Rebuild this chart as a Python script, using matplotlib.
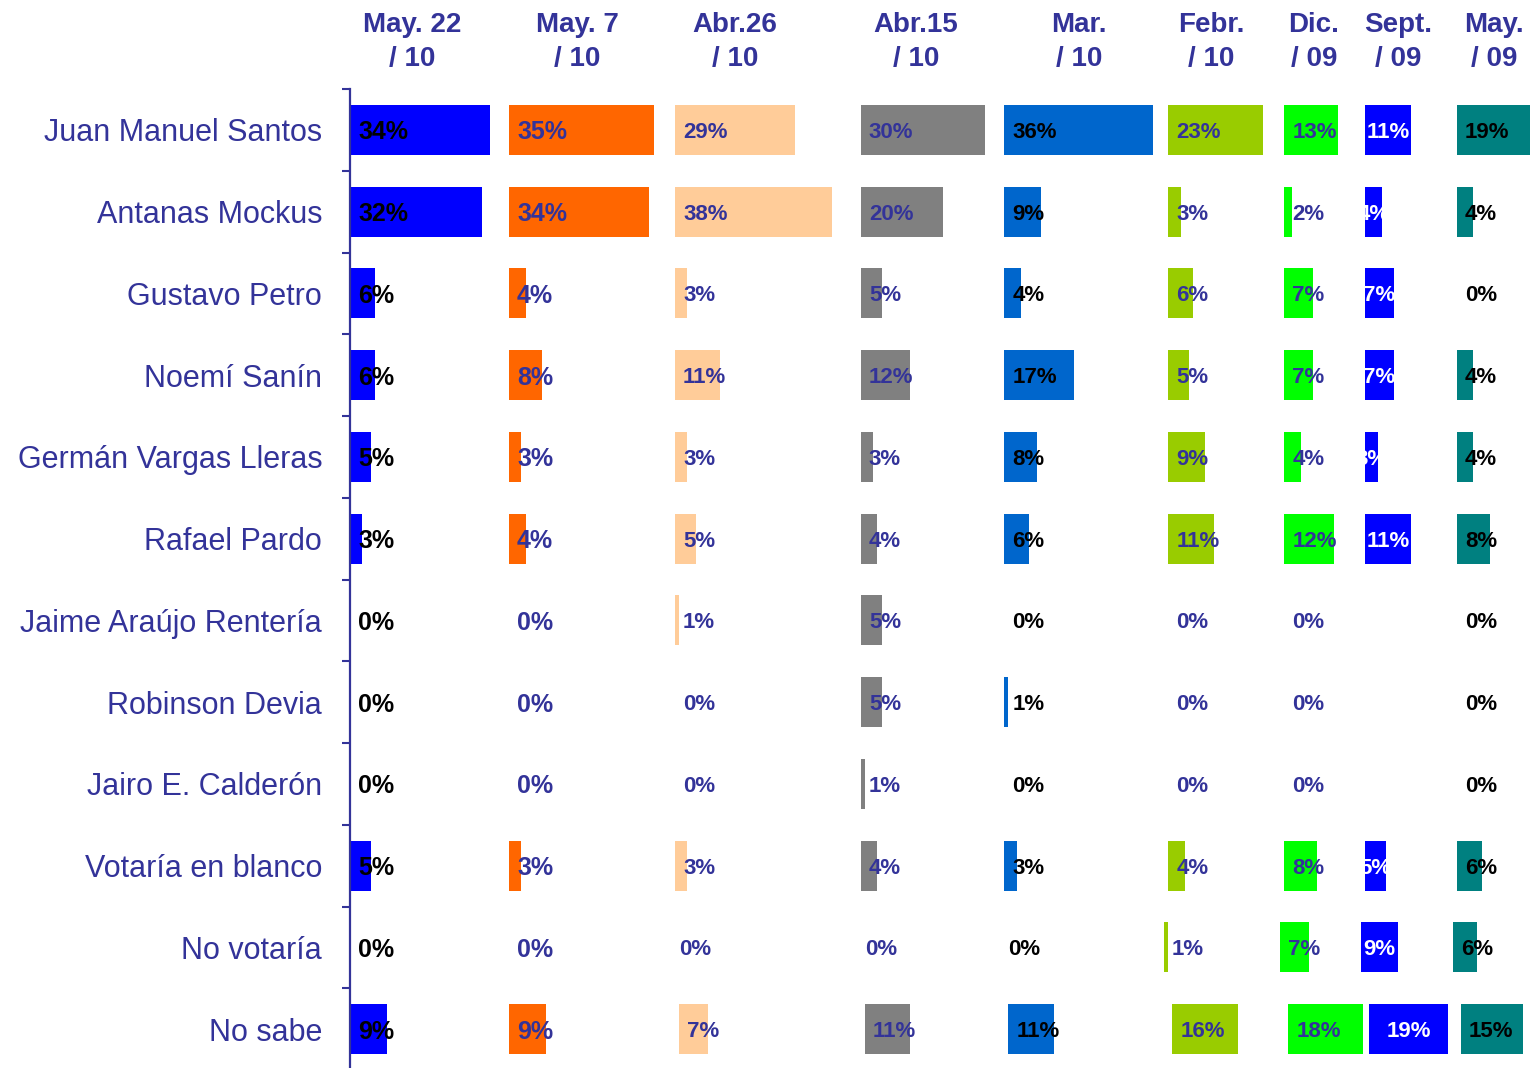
import matplotlib
matplotlib.use("Agg")
import matplotlib.pyplot as plt
import numpy as np

plt.rcParams['font.family'] = ['Liberation Sans', 'DejaVu Sans']

# ---------------- data ----------------
candidates = ["Juan Manuel Santos", "Antanas Mockus", "Gustavo Petro", "Noemí Sanín",
              "Germán Vargas Lleras", "Rafael Pardo", "Jaime Araújo Rentería",
              "Robinson Devia", "Jairo E. Calderón", "Votaría en blanco",
              "No votaría", "No sabe"]

surveys = ["May. 22\n/ 10", "May. 7\n/ 10", "Abr.26\n/ 10", "Abr.15\n/ 10",
           "Mar.\n/ 10", "Febr.\n/ 10", "Dic.\n/ 09", "Sept.\n/ 09", "May.\n/ 09"]

may22_10 = [34, 32, 6, 6, 5, 3, 0, 0, 0, 5, 0, 9]
may7_10  = [35, 34, 4, 8, 3, 4, 0, 0, 0, 3, 0, 9]
abr26_10 = [29, 38, 3, 11, 3, 5, 1, 0, 0, 3, 0, 7]
abr15_10 = [30, 20, 5, 12, 3, 4, 5, 5, 1, 4, 0, 11]
mar_10   = [36, 9, 4, 17, 8, 6, 0, 1, 0, 3, 0, 11]
feb_10   = [23, 3, 6, 5, 9, 11, 0, 0, 0, 4, 1, 16]
dic_09   = [13, 2, 7, 7, 4, 12, 0, 0, 0, 8, 7, 18]
sep_09   = [11, 4, 7, 7, 3, 11, 0, 0, 0, 5, 9, 19]
may_09   = [19, 4, 0, 4, 4, 8, 0, 0, 0, 6, 6, 15]

series = [may22_10, may7_10, abr26_10, abr15_10, mar_10, feb_10, dic_09, sep_09, may_09]

# ---------------- styling / layout ----------------
bar_colors = ["#0000FF", "#FF6600", "#FFCC99", "#808080", "#0066CC",
              "#99CC00", "#00FF00", "#0000FF", "#008080"]
text_colors = ["#000000", "#333399", "#333399", "#333399", "#000000",
               "#333399", "#333399", "#FFFFFF", "#000000"]
label_sizes = [18, 18, 16, 16, 16, 16, 16, 16, 16]
label_center = [False] * 7 + [True] + [False]
# column start offsets (in % units along the shared x scale)
col_offsets = [0.0, 38.5, 78.7, 123.7, 158.4, 198.1, 226.2, 245.8, 268.0]
# small per-row shifts of the original layout (applied to columns 2..8)
row_shift = {10: -1.0, 11: 1.0}
header_x_px = [412, 577, 735, 916, 1079, 1211, 1314, 1398, 1494]

NAVY = "#333399"
W, H = 1530, 1068
fig = plt.figure(figsize=(W / 100, H / 100), dpi=100)
px_per_unit = 4.13
ax_left, ax_top, ax_bottom = 350, 89, 1070
ax = fig.add_axes([ax_left / W, 1 - ax_bottom / H, (W - ax_left) / W, (ax_bottom - ax_top) / H])
ax.set_xlim(0, (W - ax_left) / px_per_unit)
n = len(candidates)
ax.set_ylim(n - 0.5, -0.5)

rows = np.arange(n)
for c, vals in enumerate(series):
    vals = np.asarray(vals, dtype=float)
    lefts = np.array([col_offsets[c] + (row_shift.get(r, 0.0) if c >= 2 else 0.0) for r in rows])
    ax.barh(rows, vals, left=lefts, height=0.61, color=bar_colors[c], edgecolor='none')
    for r in rows:
        v = vals[r]
        if label_center[c]:
            ax.annotate(f"{int(v)}%", xy=(lefts[r] + v / 2, r), ha='center', va='center_baseline',
                        fontsize=label_sizes[c], fontweight='bold', color=text_colors[c],
                        annotation_clip=False)
        else:
            ax.annotate(f"{int(v)}%", xy=(lefts[r], r), xytext=(5.8, 0), textcoords='offset points',
                        ha='left', va='center_baseline', fontsize=label_sizes[c], fontweight='bold',
                        color=text_colors[c], annotation_clip=False)

# axes styling
for s in ['top', 'right', 'bottom']:
    ax.spines[s].set_visible(False)
ax.spines['left'].set_color(NAVY)
ax.spines['left'].set_linewidth(1.6)
ax.set_xticks([])
ax.set_yticks(rows)
ax.set_yticklabels(candidates, fontsize=22, color=NAVY)
ax.tick_params(axis='y', which='major', length=0, pad=20)
ax.set_yticks(np.arange(n + 1) - 0.5, minor=True)
ax.tick_params(axis='y', which='minor', length=5.8, width=1.5, color=NAVY)

# column headers
for c, lab in enumerate(surveys):
    fig.text(header_x_px[c] / W, 1 - 42 / H, lab, ha='center', va='center', multialignment='center',
             fontsize=20, fontweight='bold', color=NAVY, linespacing=1.4)

fig.savefig("out.png", dpi=100)
